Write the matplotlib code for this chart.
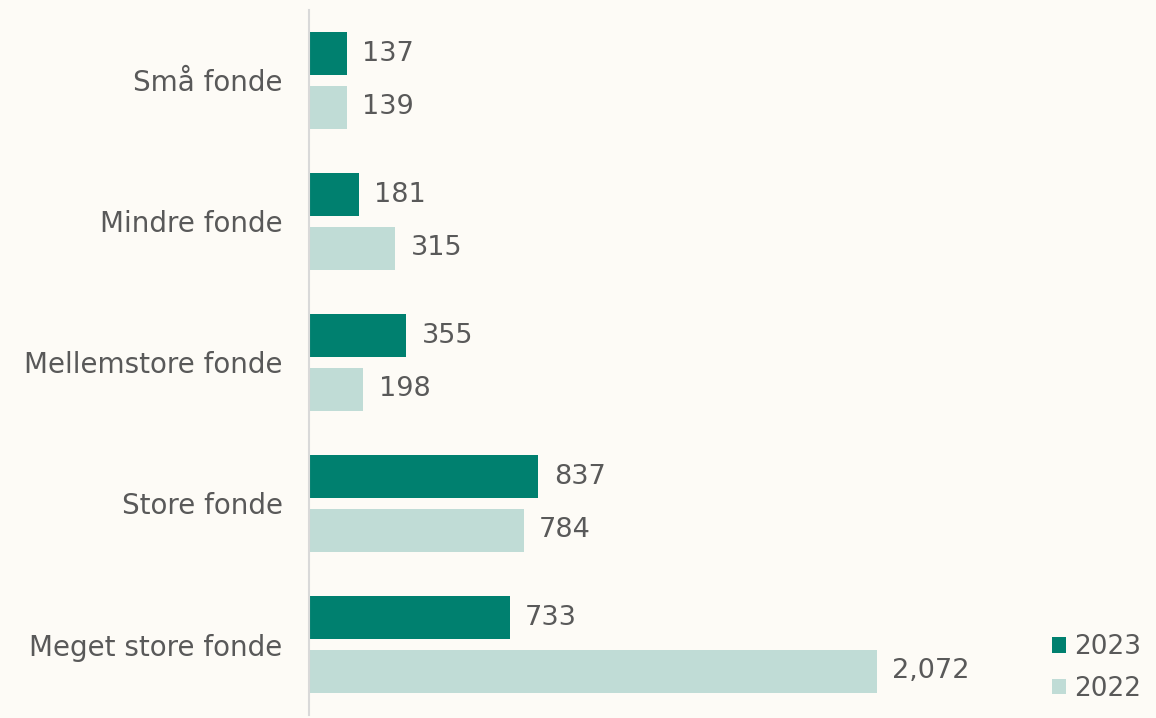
import matplotlib.pyplot as plt
import numpy as np

categories = ['Små fonde', 'Mindre fonde', 'Mellemstore fonde', 'Store fonde', 'Meget store fonde']
values_2023 = [137, 181, 355, 837, 733]
values_2022 = [139, 315, 198, 784, 2072]
series_labels = ['2023', '2022']

bg = '#fdfbf6'
dark = '#00806f'
light = '#c0dcd6'
txt = '#595959'

plt.rcParams['font.family'] = ['DejaVu Sans']

fig = plt.figure(figsize=(11.56, 7.18), dpi=100, facecolor=bg)
ax = fig.add_axes([309 / 1156, 3 / 718, 841 / 1156, 705 / 718], facecolor=bg)

y = np.arange(len(categories))
h = 0.305
off = 0.19
b1 = ax.barh(y - off, values_2023, height=h, color=dark, label=series_labels[0])
b2 = ax.barh(y + off, values_2022, height=h, color=light, label=series_labels[1])

for bars, vals in [(b1, values_2023), (b2, values_2022)]:
    for bar, v in zip(bars, vals):
        ax.annotate(f'{v:,}', (v, bar.get_y() + bar.get_height() / 2),
                    xytext=(11, 0), textcoords='offset points',
                    va='center', ha='left', fontsize=19.5, color=txt)

ax.set_xlim(0, 3069)
ax.set_ylim(len(categories) - 0.5, -0.5)
ax.set_yticks(y)
ax.set_yticklabels(categories, fontsize=20, color=txt)
ax.tick_params(axis='y', length=0, pad=19)
ax.set_xticks([])
for s in ['top', 'right', 'bottom']:
    ax.spines[s].set_visible(False)
ax.spines['left'].set_color('#d9d9d9')
ax.spines['left'].set_linewidth(1.5)

leg = ax.legend(loc='lower right', bbox_to_anchor=(1.005, 0.0), frameon=False,
                fontsize=19, handlelength=0.55, handleheight=0.55,
                handletextpad=0.3, labelspacing=0.6, borderaxespad=0.1)
for t in leg.get_texts():
    t.set_color(txt)

fig.savefig('out.png', dpi=100, facecolor=bg)
